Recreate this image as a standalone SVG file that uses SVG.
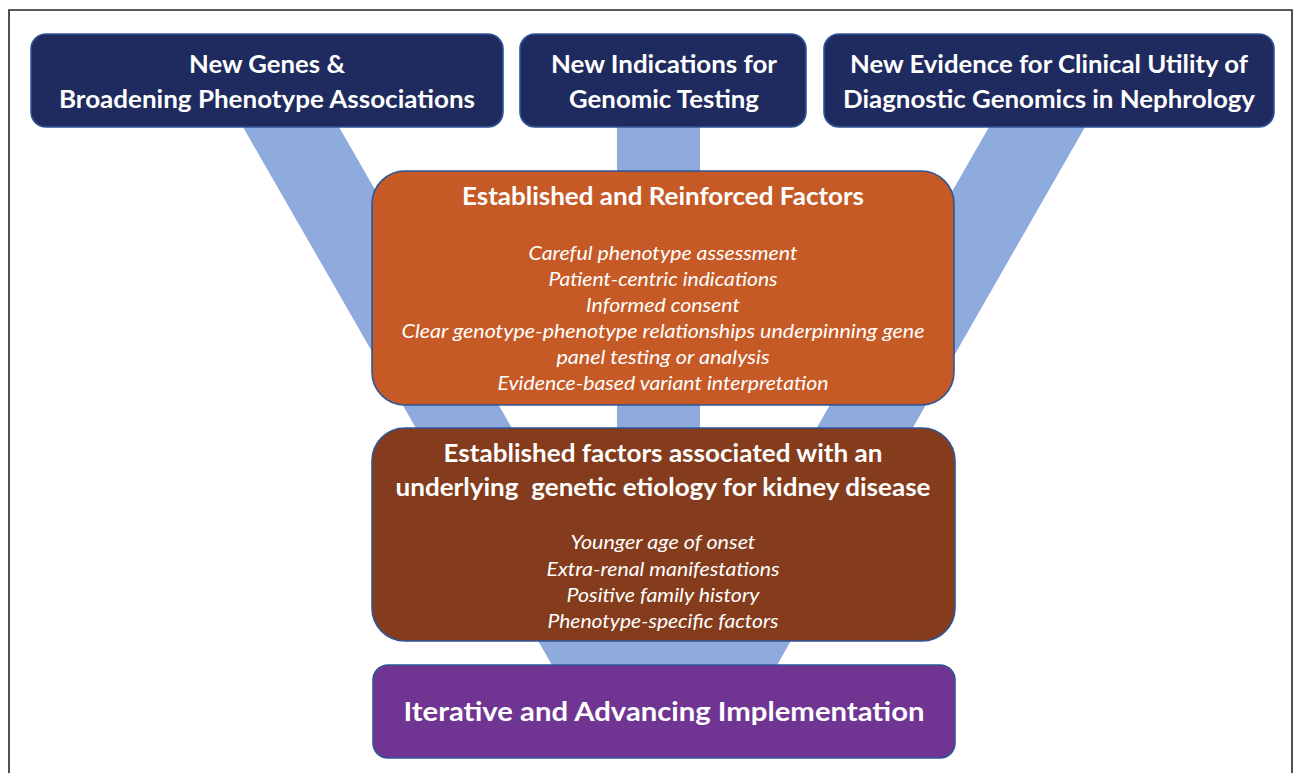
<svg xmlns="http://www.w3.org/2000/svg" width="1295" height="773" viewBox="0 0 1295 773">
  <style>
    .frame { fill: none; stroke: #262626; stroke-width: 1.6; }
    .band { fill: #8FAADC; }
    .box { stroke: #2F5597; stroke-width: 1.6; }
    .navy { fill: #1F2A5E; }
    .orange { fill: #C55A26; }
    .brown { fill: #843C1C; }
    .purple { fill: #703593; }
    text { fill: #FFFFFF; font-family: Lato, "Liberation Sans", "DejaVu Sans", sans-serif; text-anchor: middle; }
    .h { font-size: 25px; font-weight: bold; }
    .hl { font-size: 26.5px; font-weight: bold; }
    .it { font-size: 19.5px; font-style: italic; }
  </style>

  <!-- outer frame (open at the bottom) -->
  <path class="frame" d="M9,773 V10 H1292 V773"/>

  <!-- connecting bands, drawn behind the boxes -->
  <g id="connectors">
    <polygon class="band" points="243,127 339,127 648,665 552,665"/>
    <rect class="band" x="617" y="127" width="83" height="305"/>
    <polygon class="band" points="989,127 1085,127 777,665 681,665"/>
    <!-- merged funnel neck between the brown and purple boxes -->
    <polygon class="band" points="538,638 792,638 777,665 552,665"/>
  </g>

  <g id="new-genes">
    <rect class="box navy" x="31" y="34" width="472" height="93" rx="15"/>
    <text class="h" x="267" y="73" textLength="156" lengthAdjust="spacingAndGlyphs">New Genes &amp;</text>
    <text class="h" x="267" y="108" textLength="416" lengthAdjust="spacingAndGlyphs">Broadening Phenotype Associations</text>
  </g>

  <g id="new-indications">
    <rect class="box navy" x="520" y="34" width="286" height="93" rx="15"/>
    <text class="h" x="664" y="73" textLength="226" lengthAdjust="spacingAndGlyphs">New Indications for</text>
    <text class="h" x="664" y="108" textLength="190" lengthAdjust="spacingAndGlyphs">Genomic Testing</text>
  </g>

  <g id="new-evidence">
    <rect class="box navy" x="824" y="34" width="450" height="93" rx="15"/>
    <text class="h" x="1049" y="73" textLength="398" lengthAdjust="spacingAndGlyphs">New Evidence for Clinical Utility of</text>
    <text class="h" x="1049" y="108" textLength="412" lengthAdjust="spacingAndGlyphs">Diagnostic Genomics in Nephrology</text>
  </g>

  <g id="reinforced-factors">
    <rect class="box orange" x="372" y="171" width="582" height="234" rx="33"/>
    <text class="h" x="663" y="205" textLength="402" lengthAdjust="spacingAndGlyphs">Established and Reinforced Factors</text>
    <text class="it" x="663" y="260" textLength="269" lengthAdjust="spacingAndGlyphs">Careful phenotype assessment</text>
    <text class="it" x="663" y="286" textLength="229" lengthAdjust="spacingAndGlyphs">Patient-centric indications</text>
    <text class="it" x="663" y="312" textLength="154" lengthAdjust="spacingAndGlyphs">Informed consent</text>
    <text class="it" x="663" y="337.5" textLength="523" lengthAdjust="spacingAndGlyphs">Clear genotype-phenotype relationships underpinning gene</text>
    <text class="it" x="663" y="364" textLength="213" lengthAdjust="spacingAndGlyphs">panel testing or analysis</text>
    <text class="it" x="663" y="390" textLength="331" lengthAdjust="spacingAndGlyphs">Evidence-based variant interpretation</text>
  </g>

  <g id="genetic-etiology">
    <rect class="box brown" x="372" y="428" width="583" height="213" rx="33"/>
    <text class="h" x="663" y="462" textLength="439" lengthAdjust="spacingAndGlyphs">Established factors associated with an</text>
    <text class="h" x="663" y="496" textLength="535" lengthAdjust="spacingAndGlyphs" xml:space="preserve">underlying  genetic etiology for kidney disease</text>
    <text class="it" x="663" y="549" textLength="185" lengthAdjust="spacingAndGlyphs">Younger age of onset</text>
    <text class="it" x="663" y="575.5" textLength="233" lengthAdjust="spacingAndGlyphs">Extra-renal manifestations</text>
    <text class="it" x="663" y="602" textLength="193" lengthAdjust="spacingAndGlyphs">Positive family history</text>
    <text class="it" x="663" y="628" textLength="231" lengthAdjust="spacingAndGlyphs">Phenotype-specific factors</text>
  </g>

  <g id="implementation">
    <rect class="box purple" x="373" y="665" width="582" height="93" rx="15"/>
    <text class="hl" x="664" y="721" textLength="521" lengthAdjust="spacingAndGlyphs">Iterative and Advancing Implementation</text>
  </g>
</svg>
